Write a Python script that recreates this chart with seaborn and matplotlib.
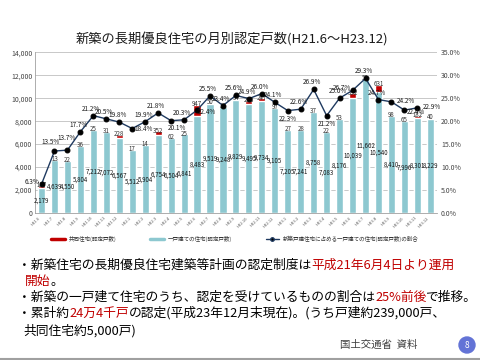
"""Monthly certifications of new long-life quality housing (H21.6 - H23.12)."""

import matplotlib.pyplot as plt
import matplotlib.transforms as mtransforms
from matplotlib.lines import Line2D
from matplotlib.patches import Circle
import numpy as np
import pandas as pd
import seaborn as sns

months = (
    ["H21.6", "H21.7", "H21.8", "H21.9", "H21.10", "H21.11", "H21.12"]
    + [f"H22.{m}" for m in range(1, 13)]
    + [f"H23.{m}" for m in range(1, 13)]
)
detached = [
    2179, 4639, 4550, 5804, 7212, 7072, 6567,
    5512, 5904, 6754, 6504, 6841, 8483, 9519, 9248, 9829, 9495, 9734, 9105,
    7205, 7241, 8758, 7083, 8176, 10039, 11662, 10540, 8410, 7996, 8301, 8229,
]
shared = [
    187, 13, 22, 36, 25, 31, 228,
    17, 14, 352, 62, 25, 947, 50, 33, 94, 263, 247, 97,
    27, 28, 37, 22, 53, 392, 52, 631, 98, 65, 182, 40,
]
share_pct = [
    6.3, 13.5, 13.7, 17.7, 21.2, 20.5, 19.8,
    18.4, 19.9, 21.8, 20.1, 20.3, 22.4, 25.5, 23.4, 25.6, 24.9, 26.0, 24.1,
    22.3, 22.6, 26.9, 21.2, 25.0, 26.7, 29.3, 24.7, 24.2, 22.4, 22.9, np.nan,
]

RED = "#c00000"
TEAL = "#8dc8d0"
NAVY = "#1f3a60"

sns.set_theme(style="white")
plt.rcParams["font.family"] = ["Noto Sans CJK JP", "DejaVu Sans"]

df = pd.DataFrame({"month": months, "detached": detached, "shared": shared, "pct": share_pct})
df["total"] = df["detached"] + df["shared"]
df["pos"] = np.arange(len(df))

fig = plt.figure(figsize=(4.8, 3.6), dpi=100)
fig.patch.set_facecolor("white")
ax = fig.add_axes([0.073, 0.408, 0.837, 0.447])

# stacked bars: total in red, detached drawn on top in teal
sns.barplot(data=df, x="month", y="total", color=RED, width=0.55, saturation=1, ax=ax)
sns.barplot(data=df, x="month", y="detached", color=TEAL, width=0.55, saturation=1, ax=ax)

ax.set_ylim(0, 14000)
ax.set_xlim(-0.5, len(df) - 0.5)
ax.set_yticks(range(0, 14001, 2000))
ax.set_yticklabels([f"{v:,}" for v in range(0, 14001, 2000)], fontsize=5, color="#444444")
ax.set_xticks(df["pos"])
ax.set_xticklabels(months, rotation=45, ha="right", fontsize=3, color="#555555")
ax.tick_params(axis="both", length=0, pad=2)
ax.grid(axis="y", color="#bfbfbf", lw=0.6)
ax.set_axisbelow(True)
ax.set_xlabel("")
ax.set_ylabel("")
for side in ["top", "right"]:
    ax.spines[side].set_visible(False)
for side in ["left", "bottom"]:
    ax.spines[side].set_color("#a0a0a0")
    ax.spines[side].set_linewidth(0.6)

for _, row in df.iterrows():
    ax.text(row["pos"], row["detached"] / 2, f"{row['detached']:,}", ha="center", va="center",
            fontsize=4.4, color="#1a1a1a")
    ax.text(row["pos"], row["total"] + 60, f"{row['shared']}", ha="center", va="center",
            fontsize=4.4, color="#333333")

# share line on secondary axis
ax2 = ax.twinx()
sns.lineplot(data=df.dropna(subset=["pct"]), x="pos", y="pct", color=NAVY, lw=1, marker="o",
             markersize=3.5, markerfacecolor="black", markeredgecolor="black", sort=False, ax=ax2)
ax2.set_ylim(0, 35)
ax2.set_yticks(range(0, 36, 5))
ax2.set_yticklabels([f"{v:.1f}%" for v in range(0, 36, 5)], fontsize=5, color="#444444")
ax2.tick_params(axis="y", length=0, pad=3)
ax2.set_ylabel("")
ax2.set_xlabel("")
for side in ["top", "right", "left", "bottom"]:
    ax2.spines[side].set_visible(False)
ax2.grid(False)

offsets = {0: (-10, 2), 1: (-4, 9), 2: (-1, 12), 7: (11, 0), 10: (6, -7), 12: (10, -2),
           19: (0, -8), 22: (0, -8), 24: (-11, 2), 27: (14, 1), 28: (12, -2), 29: (15, 1)}
for i, p in enumerate(share_pct):
    if np.isnan(p):
        continue
    dx, dy = offsets.get(i, (-2, 7))
    ax2.annotate(f"{p:.1f}%", (i, p), xytext=(dx, dy), textcoords="offset pixels",
                 ha="center", va="center", fontsize=4.6, color="#1a1a1a")

# legend
handles = [
    Line2D([], [], color=RED, lw=2.5),
    Line2D([], [], color=TEAL, lw=2.5),
    Line2D([], [], color=NAVY, lw=1, marker="o", markersize=2.5, markerfacecolor="black"),
]
labels = ["共同住宅(認定戸数)", "一戸建ての住宅(認定戸数)", "新築戸建住宅に占める一戸建ての住宅(認定戸数)の割合"]
fig.legend(handles, labels, loc="center", bbox_to_anchor=(0.49, 0.336), ncol=3, frameon=False,
           fontsize=4, handlelength=2.4, columnspacing=6, labelcolor="#333333")

fig.text(0.483, 0.889, "新築の長期優良住宅の月別認定戸数(H21.6〜H23.12)", ha="center", va="center",
         fontsize=9.5, color="#1a1a1a")

# body text with coloured runs
renderer = fig.canvas.get_renderer()
ident = mtransforms.IdentityTransform()


def text_runs(x, y_top, parts, size=9.2):
    y = 360 - y_top
    for txt, col in parts:
        t = fig.text(x, y, txt, color=col, fontsize=size, va="center", ha="left", transform=ident)
        x = t.get_window_extent(renderer).x1


text_runs(18, 265, [("・新築住宅の長期優良住宅建築等計画の認定制度は", "black"), ("平成21年6月4日より運用", RED)])
text_runs(25, 281, [("開始", RED), ("。", "black")])
text_runs(18, 297, [("・新築の一戸建て住宅のうち、認定を受けているものの割合は", "black"), ("25%前後", RED),
                    ("で推移。", "black")])
text_runs(18, 313, [("・累計約", "black"), ("24万4千戸", RED), ("の認定(平成23年12月末現在)。(うち戸建約239,000戸、", "black")])
text_runs(23, 331, [("共同住宅約5,000戸)", "black")])

fig.text(340, 360 - 345, "国土交通省  資料", fontsize=7.5, color="#404040", va="center", transform=ident)
fig.patches.append(Circle((467, 360 - 345), 8, transform=ident, color="#6373d6", zorder=5))
fig.text(467, 360 - 345, "8", fontsize=6, color="white", ha="center", va="center", transform=ident, zorder=6)
fig.lines.append(Line2D([0, 480], [1.5, 1.5], transform=ident, color="#a0a0a0", lw=1.5))

fig.savefig("out.png", dpi=100, facecolor="white")
